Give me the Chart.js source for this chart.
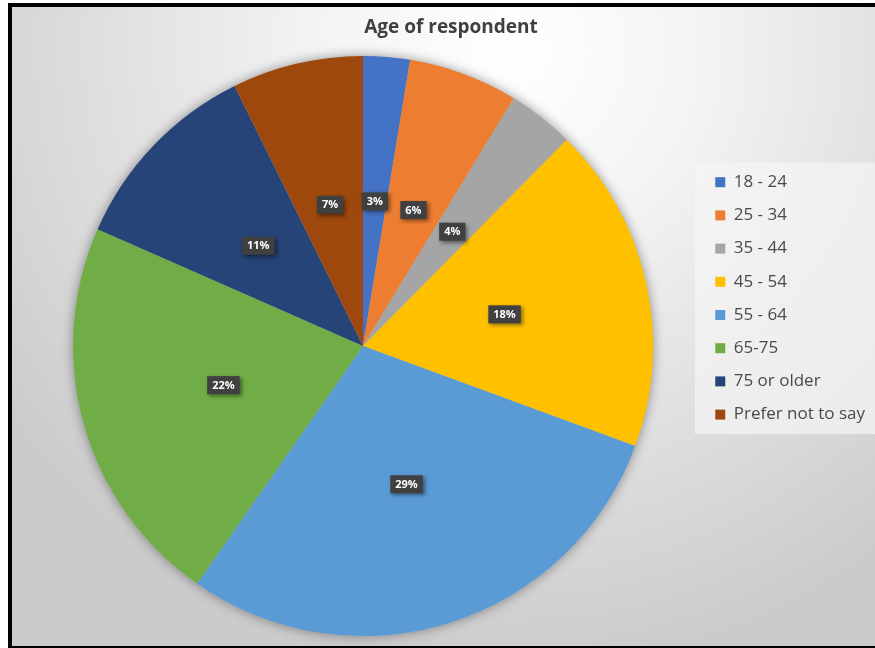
<!DOCTYPE html>
<html>
<head>
<meta charset="utf-8">
<title>Age of respondent</title>
<script src="https://cdn.jsdelivr.net/npm/chart.js@4/dist/chart.umd.min.js"></script>
<style>
    html, body { margin: 0; padding: 0; background: #ffffff; }
    body { width: 875px; height: 648px; position: relative; overflow: hidden; }
    .frame {
        position: absolute;
        left: 8px;
        top: 3px;
        width: 875px;
        height: 639px;
        border-left: 4px solid #000;
        border-top: 4px solid #000;
        border-bottom: 2px solid #000;
        background: radial-gradient(circle 620px at 498px 43px, #ffffff 0%, #f4f4f4 30%, #cbcbcb 100%);
    }
    #ageChart { position: absolute; left: 0; top: 0; }
</style>
</head>
<body>
<div class="frame"></div>
<canvas id="ageChart" width="875" height="648"></canvas>

<script>
// Age groups and their share of respondents (%)
const ageGroups = ['18 - 24', '25 - 34', '35 - 44', '45 - 54', '55 - 64', '65-75', '75 or older', 'Prefer not to say'];
const sharePercent = [2.6, 6.1, 3.7, 18.2, 29.1, 21.9, 11.1, 7.3];
const sliceColors = ['#4472C4', '#ED7D31', '#A5A5A5', '#FFC000', '#5B9BD5', '#70AD47', '#264478', '#9E480E'];

const FONT = "'Open Sans', 'Liberation Sans', sans-serif";

// soft shadow under the whole pie
const pieShadow = {
    id: 'pieShadow',
    beforeDatasetsDraw(chart) {
        const arc = chart.getDatasetMeta(0).data[0];
        if (!arc) return;
        const ctx = chart.ctx;
        ctx.save();
        ctx.shadowColor = 'rgba(0, 0, 0, 0.4)';
        ctx.shadowBlur = 12;
        ctx.fillStyle = '#bbbbbb';
        ctx.beginPath();
        ctx.arc(arc.x, arc.y, arc.outerRadius, 0, Math.PI * 2);
        ctx.fill();
        ctx.restore();
    }
};

// pale panel behind the legend
const legendPanel = {
    id: 'legendPanel',
    beforeDraw(chart) {
        const lg = chart.legend;
        if (!lg) return;
        const opts = lg.options;
        const pad = opts.labels.padding;
        const itemH = opts.labels.font.size;
        const titleH = opts.title.font.size * 1.2 + opts.title.padding.top + opts.title.padding.bottom;
        const first = lg.top + titleH + pad;
        const last = first + (ageGroups.length - 1) * (itemH + pad) + itemH;
        const ctx = chart.ctx;
        ctx.save();
        ctx.fillStyle = 'rgba(245, 245, 245, 0.7)';
        ctx.fillRect(lg.left - 4, first - 11, chart.width - lg.left + 4, last - first + 22);
        ctx.restore();
    }
};

// dark value tags in the middle of each slice
const valueTags = {
    id: 'valueTags',
    afterDatasetsDraw(chart) {
        const ctx = chart.ctx;
        const values = chart.data.datasets[0].data;
        const total = values.reduce((a, b) => a + b, 0);
        ctx.save();
        ctx.font = 'bold 11px ' + FONT;
        ctx.textAlign = 'center';
        ctx.textBaseline = 'middle';
        chart.getDatasetMeta(0).data.forEach((arc, i) => {
            const label = Math.round(values[i] / total * 100) + '%';
            const pos = arc.getCenterPoint();
            const w = ctx.measureText(label).width + 10;
            const h = 18;
            ctx.save();
            ctx.shadowColor = 'rgba(0, 0, 0, 0.45)';
            ctx.shadowBlur = 4;
            ctx.shadowOffsetX = 2;
            ctx.shadowOffsetY = 2;
            ctx.fillStyle = '#404040';
            ctx.fillRect(pos.x - w / 2, pos.y - h / 2, w, h);
            ctx.restore();
            ctx.fillStyle = '#ffffff';
            ctx.fillText(label, pos.x, pos.y + 0.5);
        });
        ctx.restore();
    }
};

new Chart(document.getElementById('ageChart'), {
    type: 'pie',
    data: {
        labels: ageGroups,
        datasets: [{
            data: sharePercent,
            backgroundColor: sliceColors,
            borderWidth: 0,
            hoverOffset: 0
        }]
    },
    options: {
        responsive: false,
        animation: false,
        events: [],
        layout: { padding: { left: 27, right: 0, top: 0, bottom: 12 } },
        plugins: {
            title: {
                display: true,
                text: 'Age of respondent',
                color: '#404040',
                font: { family: FONT, size: 19, weight: 'bold' },
                padding: { top: 16, bottom: 17.2 }
            },
            legend: {
                display: true,
                position: 'right',
                fullSize: false,
                align: 'start',
                title: {
                    display: true,
                    text: '',
                    font: { size: 10 },
                    padding: { top: 89.5, bottom: 0 }
                },
                labels: {
                    color: '#4a4a4a',
                    font: { family: FONT, size: 17 },
                    boxWidth: 10,
                    boxHeight: 10,
                    padding: 16.2
                }
            },
            tooltip: { enabled: false }
        }
    },
    plugins: [pieShadow, legendPanel, valueTags]
});
</script>
</body>
</html>
